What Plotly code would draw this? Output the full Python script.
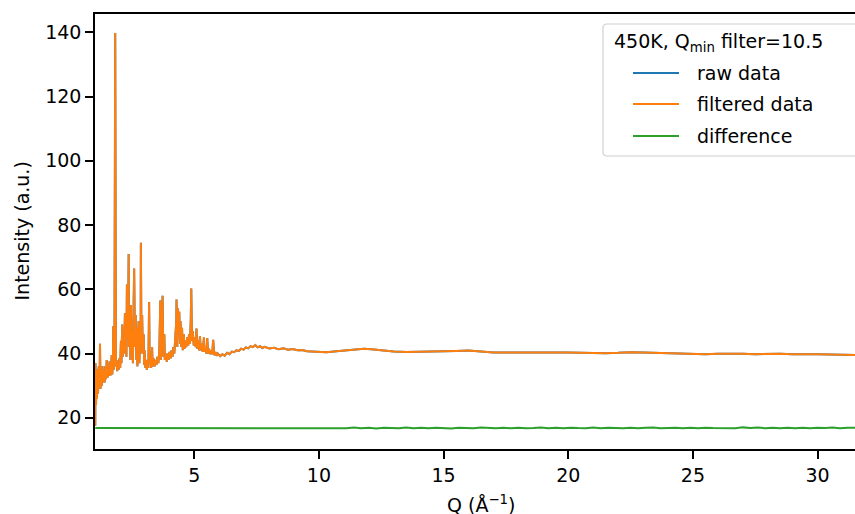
import plotly.graph_objects as go

# ---- data ----
q_filtered = [
    1.03, 1.04, 1.06, 1.08, 1.10, 1.11, 1.14, 1.17, 1.20, 1.22,
    1.24, 1.26, 1.29, 1.32, 1.35, 1.38, 1.41, 1.43, 1.46, 1.49,
    1.52, 1.55, 1.58, 1.60, 1.63, 1.66, 1.69, 1.71, 1.74, 1.75,
    1.77, 1.80, 1.83, 1.86, 1.89, 1.91, 1.94, 1.97, 2.00, 2.03,
    2.06, 2.08, 2.11, 2.13, 2.16, 2.19, 2.22, 2.23, 2.25, 2.28,
    2.30, 2.32, 2.35, 2.37, 2.38, 2.41, 2.44, 2.46, 2.48, 2.51,
    2.54, 2.56, 2.59, 2.62, 2.65, 2.68, 2.70, 2.72, 2.75, 2.77,
    2.80, 2.83, 2.85, 2.86, 2.88, 2.91, 2.94, 2.97, 2.99, 3.01,
    3.04, 3.07, 3.10, 3.13, 3.16, 3.17, 3.19, 3.21, 3.24, 3.27,
    3.31, 3.33, 3.37, 3.41, 3.45, 3.49, 3.52, 3.56, 3.60, 3.64,
    3.66, 3.69, 3.73, 3.76, 3.80, 3.82, 3.86, 3.90, 3.94, 3.97,
    4.01, 4.05, 4.09, 4.13, 4.16, 4.20, 4.24, 4.28, 4.29, 4.32,
    4.35, 4.37, 4.40, 4.43, 4.45, 4.48, 4.51, 4.54, 4.58, 4.61,
    4.64, 4.68, 4.72, 4.76, 4.79, 4.83, 4.86, 4.88, 4.91, 4.94,
    4.98, 5.02, 5.06, 5.09, 5.12, 5.16, 5.20, 5.23, 5.26, 5.30,
    5.34, 5.39, 5.41, 5.45, 5.49, 5.52, 5.56, 5.59, 5.63, 5.68,
    5.72, 5.76, 5.80, 5.85, 5.89, 5.94, 6.04, 6.13, 6.22, 6.32,
    6.41, 6.51, 6.60, 6.69, 6.79, 6.88, 6.98, 7.07, 7.16, 7.26,
    7.35, 7.45, 7.54, 7.64, 7.73, 7.82, 8.01, 8.20, 8.39, 8.58,
    8.76, 8.95, 9.14, 9.33, 9.52, 9.71, 10.0, 10.3, 10.6, 10.9,
    11.2, 11.5, 11.8, 12.1, 12.4, 12.7, 13.0, 13.5, 14.0, 14.5,
    15.0, 15.5, 16.0, 16.5, 17.0, 17.5, 18.0, 18.5, 19.0, 19.5,
    20.0, 20.5, 21.0, 21.5, 22.0, 22.5, 23.0, 23.5, 24.0, 24.5,
    25.0, 25.5, 26.0, 26.5, 27.0, 27.5, 28.0, 28.5, 29.0, 29.5,
    30.0, 30.5, 31.0, 31.5, 32.0,
]
i_filtered = [
    17.5, 37.0, 24.0, 33.0, 26.0, 35.0, 27.5, 36.0, 29.0, 43.0,
    29.0, 35.0, 30.0, 36.0, 31.0, 34.5, 31.0, 36.0, 32.0, 38.0,
    32.5, 35.0, 33.0, 37.5, 33.0, 35.0, 39.5, 33.5, 37.0, 48.5,
    35.0, 38.0, 139.8, 36.0, 38.0, 34.5, 37.0, 35.0, 38.5, 35.5,
    44.0, 37.0, 49.0, 39.0, 45.0, 40.0, 52.5, 42.0, 48.0, 39.0,
    61.5, 45.0, 50.0, 71.0, 42.0, 52.0, 38.0, 55.0, 40.0, 47.0,
    37.0, 50.0, 66.5, 42.0, 52.0, 38.0, 48.0, 36.0, 44.0, 50.0,
    37.0, 45.0, 40.0, 74.5, 45.0, 52.0, 40.0, 46.0, 36.5, 41.0,
    35.5, 38.0, 35.0, 37.5, 35.5, 40.0, 56.0, 37.0, 39.0, 35.5,
    42.0, 36.0, 38.5, 36.0, 38.0, 36.5, 39.0, 37.0, 41.0, 56.5,
    38.0, 45.0, 58.0, 39.0, 46.0, 38.0, 40.0, 37.5, 40.0, 38.0,
    40.5, 38.5, 41.0, 39.0, 42.0, 40.0, 44.0, 50.0, 56.8, 42.0,
    54.0, 47.0, 53.0, 43.0, 50.0, 42.0, 48.0, 41.0, 46.0, 41.5,
    44.0, 42.0, 45.0, 42.5, 46.0, 43.0, 50.0, 60.2, 44.0, 47.0,
    42.5, 45.0, 42.0, 47.8, 41.5, 44.0, 41.0, 45.4, 41.0, 43.0,
    40.5, 45.0, 40.5, 42.0, 40.0, 44.8, 40.0, 41.5, 39.8, 41.0,
    39.8, 44.3, 39.5, 40.5, 39.3, 40.0, 39.2, 39.8, 39.3, 40.2,
    39.8, 40.6, 40.4, 41.0, 40.8, 41.5, 41.2, 41.9, 41.6, 42.3,
    42.0, 42.6, 41.9, 42.3, 41.7, 42.1, 41.6, 41.8, 41.3, 41.6,
    41.2, 41.4, 41.0, 41.1, 40.7, 40.6, 40.5, 40.4, 40.6, 40.8,
    41.0, 41.3, 41.5, 41.3, 41.0, 40.7, 40.6, 40.5, 40.5, 40.6,
    40.7, 40.8, 40.9, 40.6, 40.3, 40.3, 40.2, 40.3, 40.3, 40.4,
    40.3, 40.2, 40.1, 40.1, 40.2, 40.4, 40.3, 40.2, 40.0, 39.9,
    39.9, 39.8, 39.9, 40.0, 39.9, 39.8, 39.9, 39.9, 39.8, 39.9,
    39.8, 39.7, 39.6, 39.6, 39.5,
]
# raw data overlaps the filtered data almost everywhere
q_raw = q_filtered
i_raw = i_filtered

q_diff = [
    1.03, 10.50,
    10.80, 11.10, 11.40, 11.70, 12.00, 12.30, 12.60, 12.90, 13.20, 13.50,
    13.80, 14.10, 14.40, 14.70, 15.00, 15.30, 15.60, 15.90, 16.20, 16.50,
    16.80, 17.10, 17.40, 17.70, 18.00, 18.30, 18.60, 18.90, 19.20, 19.50,
    19.80, 20.10, 20.40, 20.70, 21.00, 21.30, 21.60, 21.90, 22.20, 22.50,
    22.80, 23.10, 23.40, 23.70, 24.00, 24.30, 24.60, 24.90, 25.20, 25.50,
    25.80, 26.10, 26.40, 26.70, 27.00, 27.30, 27.60, 27.90, 28.20, 28.50,
    28.80, 29.10, 29.40, 29.70, 30.00, 30.30, 30.60, 30.90, 31.20, 31.50,
]
i_diff = [
    16.8, 16.8,
    16.90, 16.70, 16.95, 16.75, 16.85, 16.65, 16.90, 16.80, 16.70, 16.95,
    16.75, 16.85, 16.70, 16.90, 16.80, 16.65, 16.90, 16.85, 16.70, 16.95,
    16.80, 16.70, 16.85, 16.75, 16.90, 16.70, 16.80, 16.95, 16.75, 16.85,
    16.70, 16.90, 16.80, 16.75, 16.95, 16.70, 16.85, 16.80, 16.70, 16.90,
    16.75, 16.85, 16.95, 16.70, 16.80, 16.90, 16.75, 16.85, 16.70, 16.90,
    16.80, 16.75, 16.90, 16.70, 17.00, 16.80, 16.95, 16.75, 16.85, 16.70,
    16.90, 16.75, 16.85, 16.70, 16.90, 16.80, 16.95, 16.75, 16.85, 16.90,
]

x_ticks = [5, 10, 15, 20, 25, 30]
y_ticks = [20, 40, 60, 80, 100, 120, 140]

series_names = ["raw data", "filtered data", "difference"]
series_colors = ["#1f77b4", "#ff7f0e", "#2ca02c"]
legend_title = "450K, Q<sub>min</sub> filter=10.5"

FONT = "DejaVu Sans"
L, T, W, H = 95, 14, 760, 435   # plot area in pixels


def px(xp):
    return (xp - L) / W


def py(yp):
    return (T + H - yp) / H


fig = go.Figure()
for qs, vals, name, color in zip([q_raw, q_filtered, q_diff],
                                 [i_raw, i_filtered, i_diff],
                                 series_names, series_colors):
    fig.add_trace(go.Scatter(x=qs, y=vals, mode="lines", name=name,
                             line=dict(color=color, width=2)))

# legend drawn in the matplotlib style (box partly cut by the right edge)
shapes = []
annotations = []
bx0, by0, bx1, by1, r = px(603), py(24), px(880), py(156), 4
rx, ry = r / W, r / H
shapes.append(dict(
    type="path", xref="paper", yref="paper",
    path=(f"M {bx0 + rx},{by0} L {bx1 - rx},{by0} Q {bx1},{by0} {bx1},{by0 - ry} "
          f"L {bx1},{by1 + ry} Q {bx1},{by1} {bx1 - rx},{by1} L {bx0 + rx},{by1} "
          f"Q {bx0},{by1} {bx0},{by1 + ry} L {bx0},{by0 - ry} Q {bx0},{by0} {bx0 + rx},{by0} Z"),
    line=dict(color="#d0d0d0", width=1.2), fillcolor="rgba(255,255,255,0.8)", layer="above"))
annotations.append(dict(text=legend_title, xref="paper", yref="paper",
                        x=px(612), y=py(43), xanchor="left", yanchor="middle",
                        showarrow=False, font=dict(size=19)))
row_y = [73, 104, 136]
for name, color, yy in zip(series_names, series_colors, row_y):
    shapes.append(dict(type="line", xref="paper", yref="paper",
                       x0=px(633), x1=px(679), y0=py(yy), y1=py(yy),
                       line=dict(color=color, width=2), layer="above"))
    annotations.append(dict(text=name, xref="paper", yref="paper",
                            x=px(695), y=py(yy), xanchor="left", yanchor="middle",
                            showarrow=False, font=dict(size=19)))

annotations.append(dict(text="Q (Å<sup>−1</sup>)", xref="paper", yref="paper",
                        x=px(481), y=py(490), xanchor="center", yanchor="top",
                        showarrow=False, font=dict(size=19)))
annotations.append(dict(text="Intensity (a.u.)", xref="paper", yref="paper",
                        x=px(21), y=0.5, xanchor="center", yanchor="middle",
                        textangle=-90, showarrow=False, font=dict(size=19)))

fig.update_layout(
    width=855, height=514,
    margin=dict(l=L, r=855 - L - W, t=T, b=514 - T - H, autoexpand=False),
    paper_bgcolor="white", plot_bgcolor="white",
    font=dict(family=FONT, size=19, color="black"),
    showlegend=False,
    xaxis=dict(
        range=[1.02, 31.5], tickvals=x_ticks, ticks="outside", ticklen=8, tickwidth=1.5,
        tickcolor="black", showline=True, linecolor="black", linewidth=1.5,
        mirror=True, showgrid=False, zeroline=False,
    ),
    yaxis=dict(
        range=[10.27, 145.7], tickvals=y_ticks, ticks="outside", ticklen=8, tickwidth=1.5,
        tickcolor="black", showline=True, linecolor="black", linewidth=1.5,
        mirror=False, showgrid=False, zeroline=False,
    ),
    shapes=shapes,
    annotations=annotations,
)

fig.write_html("out.html")
